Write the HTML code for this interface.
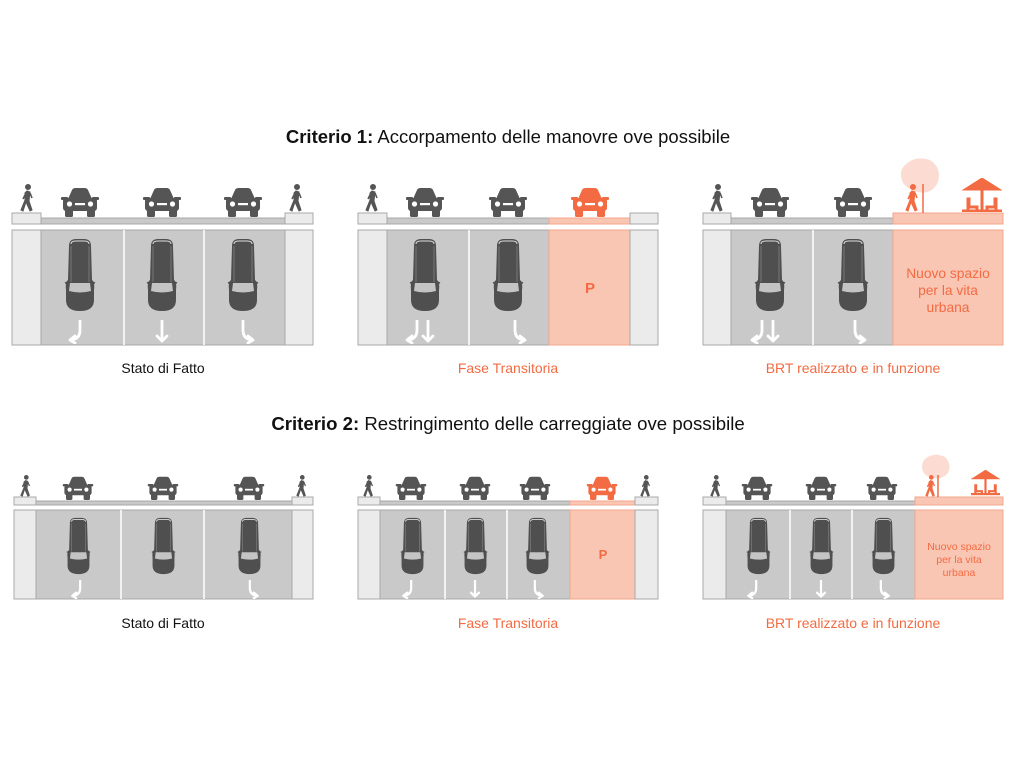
<!DOCTYPE html>
<html><head><meta charset="utf-8"><style>
html,body{margin:0;padding:0;background:#fff;}
svg{display:block;}
text{font-family:"Liberation Sans",sans-serif;}
</style></head><body>
<svg width="1024" height="768" viewBox="0 0 1024 768" xmlns="http://www.w3.org/2000/svg">
<defs>
<symbol id="cf" viewBox="0 0 40 30">
 <path d="M8 12 L12 3 Q13 1 15.5 1 L24.5 1 Q27 1 28 3 L32 12 Z"/>
 <rect x="1" y="10" width="7" height="3" rx="1"/><rect x="32" y="10" width="7" height="3" rx="1"/>
 <rect x="3" y="11" width="34" height="13" rx="3"/>
 <rect x="5" y="21" width="8" height="9" rx="1.5"/><rect x="27" y="21" width="8" height="9" rx="1.5"/>
 <circle cx="9.5" cy="17" r="2.6" fill="#fff"/><circle cx="30.5" cy="17" r="2.6" fill="#fff"/>
 <rect x="15" y="16" width="10" height="2.2" fill="#fff"/>
</symbol>
<symbol id="ct" viewBox="0 0 32 74">
 <path d="M5 8 Q5 1 12 1 L20 1 Q27 1 27 8 L28 42 Q31 44 30 52 L30 62 Q30 73 16 73 Q2 73 2 62 L2 52 Q1 44 4 42 Z" fill="#4f4f4f"/>
 <path d="M7 6 Q7 3 12 3 L20 3 Q25 3 25 6" stroke="#ddd" stroke-width="1" fill="none"/>
 <path d="M6 45 L26 45 L27 53 Q16 56 5 53 Z" fill="#c4c4c4"/>
 <path d="M7 8 L7 44 M25 8 L25 44" stroke="#777" stroke-width="1"/>
 <path d="M1 45 L4 44 M31 45 L28 44" stroke="#4f4f4f" stroke-width="1.5"/>
</symbol>
<symbol id="pd" viewBox="0 0 14 28">
 <circle cx="8" cy="3" r="2.5"/>
 <path d="M7 7 L10 8 L9 17 L12 26 L10 27 L6 18 L3 27 L1 26 L5 16 L5 9 Z"/>
 <path d="M6 9 L3 15 M10 9 L12 14" stroke-width="1.6" fill="none"/>
</symbol>
<symbol id="aS" viewBox="0 0 20 24"><path d="M10 1 V21 M5 16 L10 21 L15 16" fill="none" stroke="#fff" stroke-width="2.8" stroke-linecap="round" stroke-linejoin="round"/></symbol>
<symbol id="aL" viewBox="0 0 20 24"><path d="M14 1 V10 Q14 19 5 20 M9 16 L4 20 L9 23" fill="none" stroke="#fff" stroke-width="2.8" stroke-linecap="round" stroke-linejoin="round"/></symbol>
<symbol id="aR" viewBox="0 0 20 24"><path d="M6 1 V10 Q6 19 15 20 M11 16 L16 20 L11 23" fill="none" stroke="#fff" stroke-width="2.8" stroke-linecap="round" stroke-linejoin="round"/></symbol>
<symbol id="um" viewBox="0 0 40 34">
 <path d="M1 12 L20 0 L39 12 Z"/><rect x="19" y="11" width="2" height="21"/>
 <path d="M5 20 h3 v8 h8 v5 h-2 v-3 h-7 v3 h-2 Z M35 20 h-3 v8 h-8 v5 h2 v-3 h7 v3 h2 Z"/>
 <rect x="0" y="32" width="40" height="2"/>
</symbol>
</defs>

<text x="508" y="143" font-size="18.5" text-anchor="middle" fill="#111"><tspan font-weight="bold">Criterio 1:</tspan> Accorpamento delle manovre ove possibile</text>
<text x="508" y="430" font-size="18.6" text-anchor="middle" fill="#111"><tspan font-weight="bold">Criterio 2:</tspan> Restringimento delle carreggiate ove possibile</text>

<g stroke="#a8a8a8" stroke-width="1">
<rect x="12" y="213" width="29" height="11" fill="#ebebeb"/><rect x="41" y="218" width="244" height="6" fill="#c9c9c9"/><rect x="285" y="213" width="28" height="11" fill="#ebebeb"/>
<rect x="12" y="230" width="29" height="115" fill="#ebebeb"/><rect x="41" y="230" width="244" height="115" fill="#c9c9c9"/><rect x="285" y="230" width="28" height="115" fill="#ebebeb"/>
<rect x="358" y="213" width="29" height="11" fill="#ebebeb"/><rect x="387" y="218" width="162" height="6" fill="#c9c9c9"/><rect x="549" y="218" width="81" height="6" fill="#f9c6b4" stroke="#f5a58c"/><rect x="630" y="213" width="28" height="11" fill="#ebebeb"/>
<rect x="358" y="230" width="29" height="115" fill="#ebebeb"/><rect x="387" y="230" width="162" height="115" fill="#c9c9c9"/><rect x="549" y="230" width="81" height="115" fill="#f9c6b4" stroke="#f5a58c"/><rect x="630" y="230" width="28" height="115" fill="#ebebeb"/>
<rect x="703" y="213" width="28" height="11" fill="#ebebeb"/><rect x="731" y="218" width="162" height="6" fill="#c9c9c9"/><rect x="893" y="213" width="110" height="11" fill="#f9c6b4" stroke="#f5a58c"/>
<rect x="703" y="230" width="28" height="115" fill="#ebebeb"/><rect x="731" y="230" width="162" height="115" fill="#c9c9c9"/><rect x="893" y="230" width="110" height="115" fill="#f9c6b4" stroke="#f5a58c"/>
<rect x="14" y="497" width="22" height="8" fill="#ebebeb"/><rect x="36" y="501" width="256" height="4" fill="#c9c9c9"/><rect x="292" y="497" width="21" height="8" fill="#ebebeb"/>
<rect x="14" y="510" width="22" height="89" fill="#ebebeb"/><rect x="36" y="510" width="256" height="89" fill="#c9c9c9"/><rect x="292" y="510" width="21" height="89" fill="#ebebeb"/>
<rect x="358" y="497" width="22" height="8" fill="#ebebeb"/><rect x="380" y="501" width="190" height="4" fill="#c9c9c9"/><rect x="570" y="501" width="65" height="4" fill="#f9c6b4" stroke="#f5a58c"/><rect x="635" y="497" width="23" height="8" fill="#ebebeb"/>
<rect x="358" y="510" width="22" height="89" fill="#ebebeb"/><rect x="380" y="510" width="190" height="89" fill="#c9c9c9"/><rect x="570" y="510" width="65" height="89" fill="#f9c6b4" stroke="#f5a58c"/><rect x="635" y="510" width="23" height="89" fill="#ebebeb"/>
<rect x="703" y="497" width="23" height="8" fill="#ebebeb"/><rect x="726" y="501" width="189" height="4" fill="#c9c9c9"/><rect x="915" y="497" width="88" height="8" fill="#f9c6b4" stroke="#f5a58c"/>
<rect x="703" y="510" width="23" height="89" fill="#ebebeb"/><rect x="726" y="510" width="189" height="89" fill="#c9c9c9"/><rect x="915" y="510" width="88" height="89" fill="#f9c6b4" stroke="#f5a58c"/>
</g>

<g stroke="#fff" stroke-width="1.5">
<path d="M124 230V345 M204 230V345 M469 230V345 M813 230V345"/>
<path d="M121 510V599 M204 510V599 M445 510V599 M507 510V599 M790 510V599 M852 510V599"/>
</g>

<path d="M905 165 Q915 155 930 160 Q942 168 938 182 Q932 195 918 192 Q902 188 901 176 Q900 170 905 165 Z" fill="#fcdcd2"/>
<path d="M926 458 Q935 452 945 457 Q952 464 948 473 Q942 480 932 478 Q922 475 922 467 Q922 461 926 458 Z" fill="#fcdcd2"/>

<g fill="#555">
<use href="#cf" x="60" y="187" width="40" height="30"/><use href="#cf" x="142" y="187" width="40" height="30"/><use href="#cf" x="223" y="187" width="40" height="30"/>
<use href="#cf" x="405" y="187" width="40" height="30"/><use href="#cf" x="488" y="187" width="40" height="30"/>
<use href="#cf" x="750" y="187" width="40" height="30"/><use href="#cf" x="833" y="187" width="40" height="30"/>
<use href="#cf" x="62" y="476" width="32" height="24"/><use href="#cf" x="147" y="476" width="32" height="24"/><use href="#cf" x="233" y="476" width="32" height="24"/>
<use href="#cf" x="395" y="476" width="32" height="24"/><use href="#cf" x="459" y="476" width="32" height="24"/><use href="#cf" x="519" y="476" width="32" height="24"/>
<use href="#cf" x="741" y="476" width="32" height="24"/><use href="#cf" x="805" y="476" width="32" height="24"/><use href="#cf" x="866" y="476" width="32" height="24"/>
</g>
<g fill="#f26b43">
<use href="#cf" x="570" y="187" width="40" height="30"/>
<use href="#cf" x="586" y="476" width="32" height="24"/>
</g>

<g fill="#555" stroke="#555">
<use href="#pd" x="20" y="184" width="14" height="28"/><use href="#pd" x="289" y="184" width="14" height="28"/>
<use href="#pd" x="365" y="184" width="14" height="28"/>
<use href="#pd" x="710" y="184" width="14" height="28"/>
<use href="#pd" x="20" y="475" width="11" height="22"/><use href="#pd" x="296" y="475" width="11" height="22"/>
<use href="#pd" x="363" y="475" width="11" height="22"/><use href="#pd" x="640" y="475" width="11" height="22"/>
<use href="#pd" x="710" y="475" width="11" height="22"/>
</g>
<g fill="#f26b43" stroke="#f26b43">
<use href="#pd" x="905" y="184" width="14" height="28"/>
<use href="#pd" x="925" y="475" width="11" height="22"/>
<path d="M923 184V213 M938 475V497" stroke-width="1.5"/>
<use href="#um" x="962" y="178" width="40" height="34"/>
<use href="#um" x="971" y="469" width="29" height="27"/>
</g>

<use href="#ct" x="64" y="238" width="32" height="74"/><use href="#ct" x="146" y="238" width="32" height="74"/><use href="#ct" x="227" y="238" width="32" height="74"/>
<use href="#ct" x="409" y="238" width="32" height="74"/><use href="#ct" x="492" y="238" width="32" height="74"/>
<use href="#ct" x="754" y="238" width="32" height="74"/><use href="#ct" x="837" y="238" width="32" height="74"/>
<use href="#ct" x="66" y="517" width="25" height="58"/><use href="#ct" x="151" y="517" width="25" height="58"/><use href="#ct" x="237" y="517" width="25" height="58"/>
<use href="#ct" x="400" y="517" width="25" height="58"/><use href="#ct" x="463" y="517" width="25" height="58"/><use href="#ct" x="525" y="517" width="25" height="58"/>
<use href="#ct" x="746" y="517" width="25" height="58"/><use href="#ct" x="809" y="517" width="25" height="58"/><use href="#ct" x="871" y="517" width="25" height="58"/>

<use href="#aL" x="66" y="320" width="20" height="24"/><use href="#aS" x="152" y="320" width="20" height="24"/><use href="#aR" x="237" y="320" width="20" height="24"/>
<use href="#aL" x="403" y="320" width="20" height="24"/><use href="#aS" x="418" y="320" width="20" height="24"/><use href="#aR" x="509" y="320" width="20" height="24"/>
<use href="#aL" x="748" y="320" width="20" height="24"/><use href="#aS" x="763" y="320" width="20" height="24"/><use href="#aR" x="849" y="320" width="20" height="24"/>
<use href="#aL" x="69" y="580" width="16" height="19"/><use href="#aR" x="245" y="580" width="16" height="19"/>
<use href="#aL" x="400" y="580" width="16" height="19"/><use href="#aS" x="467" y="580" width="16" height="19"/><use href="#aR" x="530" y="580" width="16" height="19"/>
<use href="#aL" x="745" y="580" width="16" height="19"/><use href="#aS" x="813" y="580" width="16" height="19"/><use href="#aR" x="876" y="580" width="16" height="19"/>

<text x="590" y="293" font-size="15" font-weight="bold" text-anchor="middle" fill="#f26b43">P</text>
<text x="603" y="559" font-size="13" font-weight="bold" text-anchor="middle" fill="#f26b43">P</text>
<g fill="#f26b43" font-size="13.8" text-anchor="middle">
<text x="948" y="278">Nuovo spazio</text><text x="948" y="295">per la vita</text><text x="948" y="312">urbana</text>
</g>
<g fill="#f26b43" font-size="10.5" text-anchor="middle">
<text x="959" y="550">Nuovo spazio</text><text x="959" y="563">per la vita</text><text x="959" y="576">urbana</text>
</g>

<g font-size="14" text-anchor="middle">
<text x="163" y="373" fill="#111">Stato di Fatto</text>
<text x="508" y="373" fill="#f26b43">Fase Transitoria</text>
<text x="853" y="373" fill="#f26b43">BRT realizzato e in funzione</text>
<text x="163" y="628" fill="#111">Stato di Fatto</text>
<text x="508" y="628" fill="#f26b43">Fase Transitoria</text>
<text x="853" y="628" fill="#f26b43">BRT realizzato e in funzione</text>
</g>
</svg>
</body></html>
